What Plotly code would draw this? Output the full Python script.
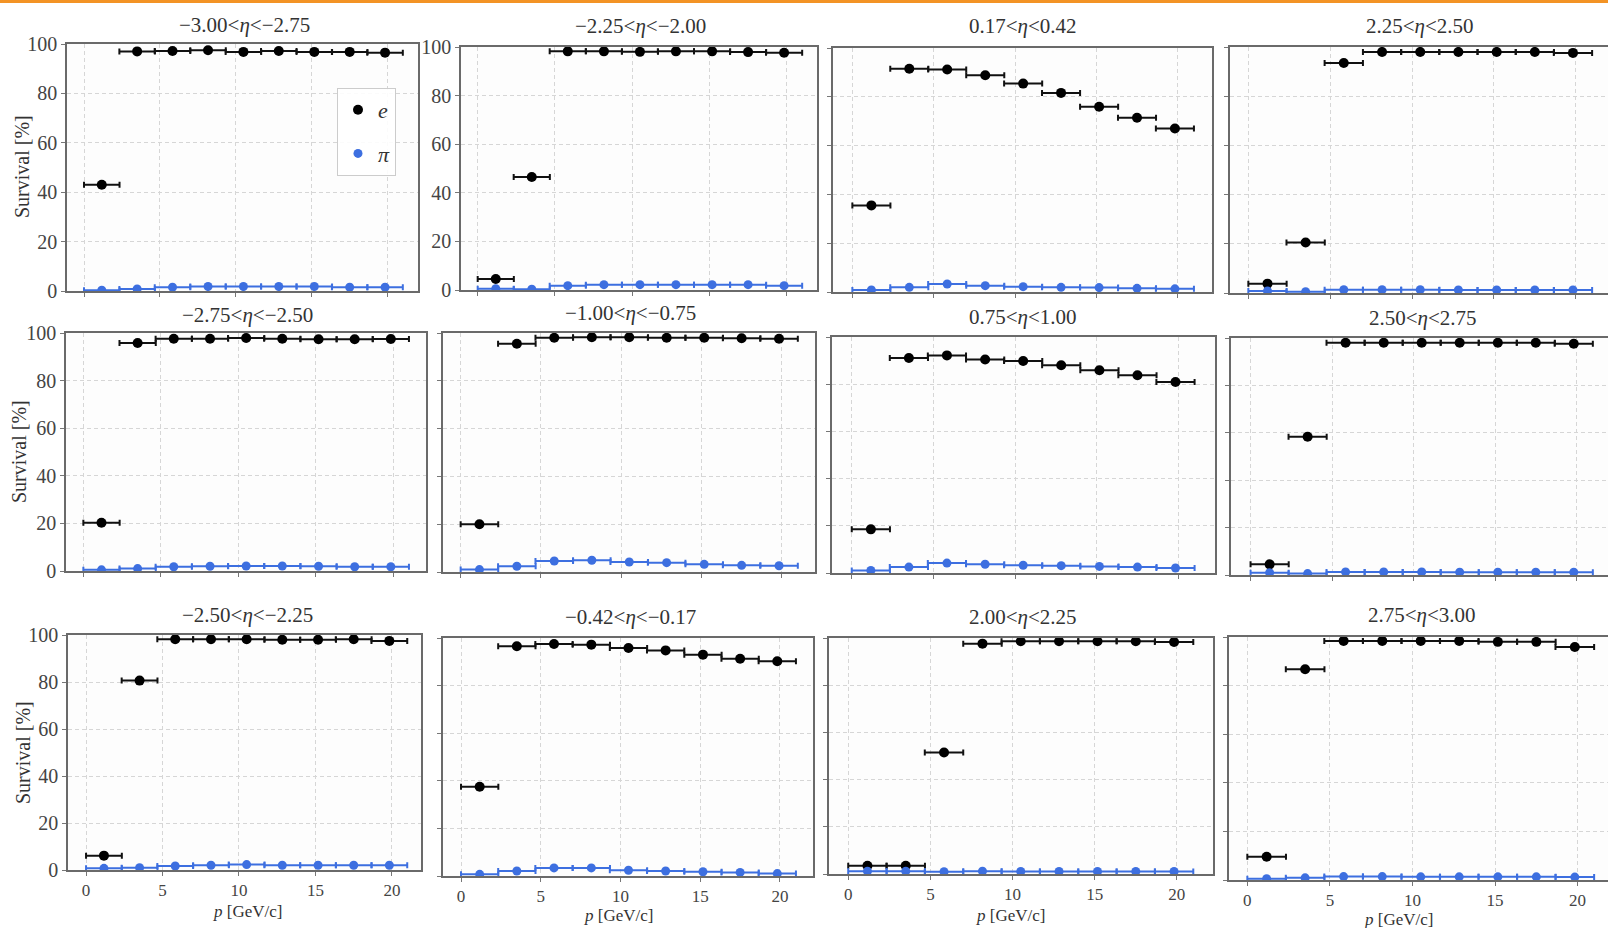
import plotly.graph_objects as go

W, H = 1608, 928

# ---------------- data ----------------
p_center = [1.17, 3.5, 5.83, 8.17, 10.5, 12.83, 15.17, 17.5, 19.83]
p_halfwidth = [1.17, 1.17, 1.17, 1.17, 1.17, 1.17, 1.17, 1.17, 1.17]

eta_labels = [
    "−3.00<<i>η</i><−2.75", "−2.25<<i>η</i><−2.00", "0.17<<i>η</i><0.42", "2.25<<i>η</i><2.50",
    "−2.75<<i>η</i><−2.50", "−1.00<<i>η</i><−0.75", "0.75<<i>η</i><1.00", "2.50<<i>η</i><2.75",
    "−2.50<<i>η</i><−2.25", "−0.42<<i>η</i><−0.17", "2.00<<i>η</i><2.25", "2.75<<i>η</i><3.00",
]

e_m300 = [43.0, 97.0, 97.2, 97.5, 96.8, 97.2, 96.8, 96.8, 96.5]
pi_m300 = [0.3, 0.8, 1.5, 1.8, 1.8, 1.8, 1.8, 1.5, 1.5]
e_m225 = [4.5, 46.5, 98.2, 98.2, 98.0, 98.2, 98.2, 97.9, 97.6]
pi_m225 = [0.5, 0.3, 1.8, 2.2, 2.2, 2.2, 2.2, 2.2, 1.8]
e_p017 = [35.5, 91.5, 91.2, 88.8, 85.4, 81.6, 75.9, 71.4, 67.0]
pi_p017 = [0.8, 1.9, 3.3, 2.6, 2.2, 1.9, 1.8, 1.5, 1.3]
e_p225 = [3.8, 20.5, 93.5, 98.0, 98.0, 98.0, 98.0, 98.0, 97.6]
pi_p225 = [0.8, 0.5, 1.3, 1.3, 1.3, 1.2, 1.2, 1.2, 1.2]

e_m275 = [20.3, 95.8, 97.6, 97.6, 97.9, 97.6, 97.4, 97.4, 97.5]
pi_m275 = [0.5, 1.0, 1.8, 2.0, 2.1, 2.1, 2.0, 1.8, 1.8]
e_m100 = [20.0, 95.5, 98.0, 98.2, 98.2, 98.0, 98.0, 97.8, 97.6]
pi_m100 = [1.0, 2.4, 4.6, 4.9, 4.2, 3.9, 3.2, 2.8, 2.6]
e_p075 = [18.5, 91.1, 92.2, 90.5, 89.8, 88.0, 85.9, 83.8, 80.9]
pi_p075 = [1.1, 2.5, 4.2, 3.7, 3.3, 3.1, 2.8, 2.5, 2.1]
e_p250 = [4.5, 58.3, 98.0, 98.0, 98.0, 98.0, 98.0, 98.0, 97.6]
pi_p250 = [1.0, 0.6, 1.3, 1.3, 1.3, 1.2, 1.2, 1.2, 1.2]

e_m250 = [6.1, 80.6, 98.2, 98.2, 98.2, 98.0, 98.0, 98.2, 97.5]
pi_m250 = [0.7, 1.0, 1.7, 2.0, 2.3, 2.0, 2.0, 2.0, 2.0]
e_m042 = [37.5, 96.5, 97.5, 97.2, 95.8, 94.8, 93.0, 91.3, 90.2]
pi_m042 = [0.7, 2.1, 3.4, 3.4, 2.4, 2.1, 1.8, 1.5, 1.0]
e_p200 = [3.5, 3.5, 51.5, 97.6, 98.6, 98.6, 98.6, 98.6, 98.3]
pi_p200 = [1.2, 1.2, 1.0, 1.2, 1.1, 1.1, 1.1, 1.1, 1.1]
e_p275 = [9.6, 86.7, 98.4, 98.4, 98.4, 98.4, 98.0, 98.0, 95.9]
pi_p275 = [0.5, 0.9, 1.4, 1.4, 1.3, 1.3, 1.3, 1.3, 1.2]

e_series = [e_m300, e_m225, e_p017, e_p225,
            e_m275, e_m100, e_p075, e_p250,
            e_m250, e_m042, e_p200, e_p275]
pi_series = [pi_m300, pi_m225, pi_p017, pi_p225,
             pi_m275, pi_m100, pi_p075, pi_p250,
             pi_m250, pi_m042, pi_p200, pi_p275]

x_ticks = [0, 5, 10, 15, 20]
y_ticks = [0, 20, 40, 60, 80, 100]

# ---------------- layout (pixel boxes: left, right, top, bottom) ----------------
boxes = [
    (67, 418, 44, 291), (461, 817, 47, 290), (833, 1212, 48, 292), (1230, 1608, 47, 293),
    (66, 426, 333, 571), (443, 815, 333, 572), (832, 1215, 337, 573), (1231, 1608, 338, 575),
    (68, 421, 635, 870), (443, 813, 638, 876), (829, 1213, 638, 874), (1229, 1608, 637, 880),
]
x_ranges = [
    (-1.12, 22.0), (-1.08, 21.96), (-1.19, 22.11), (-1.12, 21.97),
    (-1.12, 22.1), (-1.10, 22.07), (-1.21, 22.25), (-1.20, 21.93),
    (-1.18, 21.9), (-1.13, 22.07), (-1.17, 22.2), (-1.11, 21.84),
]
y_label_panels = {0, 1, 4, 8}
title_pos = [(245, 25), (640, 26), (1023, 26), (1420, 26),
             (247, 315), (630, 313), (1023, 317), (1423, 318),
             (247, 615), (630, 617), (1023, 617), (1422, 615)]


def px(x):
    return x / W


def py(y):
    return 1 - y / H


SERIF = "Liberation Serif, Times New Roman, serif"
BLUE = "#3d6fe0"

fig = go.Figure()
layout = dict(
    width=W, height=H, autosize=False,
    margin=dict(l=0, r=0, t=0, b=0, pad=0, autoexpand=False),
    paper_bgcolor="white",
    plot_bgcolor="#fdfdfd",
    showlegend=True,
    font=dict(family=SERIF, color="#333"),
)

annotations = []
for i in range(12):
    ax = "" if i == 0 else str(i + 1)
    L, R, T, B = boxes[i]
    row = i // 4
    common = dict(
        showgrid=True, gridcolor="#d6d6d6", griddash="4px,3px", gridwidth=1,
        showline=True, mirror=True, linecolor="#6a6a6a", linewidth=1.6,
        ticks="outside", ticklen=4, tickcolor="#777", zeroline=False,
        automargin=False,
    )
    layout["xaxis" + ax] = dict(
        domain=[px(L), px(R)], range=list(x_ranges[i]), anchor="y" + ax,
        tickvals=x_ticks, showticklabels=(row == 2),
        tickfont=dict(family=SERIF, size=17, color="#444"),
        **common,
    )
    layout["yaxis" + ax] = dict(
        domain=[py(B), py(T)], range=[0, 100], anchor="x" + ax,
        tickvals=y_ticks, showticklabels=(i in y_label_panels),
        tickfont=dict(family=SERIF, size=20, color="#444"),
        **common,
    )
    fig.add_trace(go.Scatter(
        x=p_center, y=e_series[i], mode="markers",
        marker=dict(color="black", size=10),
        error_x=dict(type="data", array=p_halfwidth, color="#111", thickness=2, width=3),
        name="<i>e</i>", legendgroup="e", showlegend=(i == 0),
        xaxis="x" + ax, yaxis="y" + ax,
    ))
    fig.add_trace(go.Scatter(
        x=p_center, y=pi_series[i], mode="markers",
        marker=dict(color=BLUE, size=9),
        error_x=dict(type="data", array=p_halfwidth, color=BLUE, thickness=2, width=3),
        name="<i>π</i>", legendgroup="pi", showlegend=(i == 0),
        xaxis="x" + ax, yaxis="y" + ax,
    ))
    tx, ty = title_pos[i]
    annotations.append(dict(
        x=px(tx), y=py(ty), xref="paper", yref="paper", text=eta_labels[i],
        showarrow=False, xanchor="center", yanchor="middle",
        font=dict(family=SERIF, size=21, color="#333"),
    ))

# y-axis titles
for yc, xc in [(167, 22), (452, 19), (753, 23)]:
    annotations.append(dict(
        x=px(xc), y=py(yc), xref="paper", yref="paper", text="Survival [%]",
        textangle=-90, showarrow=False, xanchor="center", yanchor="middle",
        font=dict(family=SERIF, size=20, color="#333"),
    ))
# x-axis titles
for xc, yc in [(247, 911), (618, 915), (1010, 915), (1398, 919)]:
    annotations.append(dict(
        x=px(xc), y=py(yc), xref="paper", yref="paper", text="<i>p</i> [GeV/c]",
        showarrow=False, xanchor="center", yanchor="middle",
        font=dict(family=SERIF, size=17, color="#333"),
    ))

layout["annotations"] = annotations
layout["shapes"] = [dict(type="rect", xref="paper", yref="paper",
                         x0=0, x1=1, y0=py(3), y1=1,
                         fillcolor="#f39325", line=dict(width=0), layer="above")]
layout["legend"] = dict(
    x=px(337), y=py(88), xanchor="left", yanchor="top",
    bgcolor="rgba(255,255,255,0.9)", bordercolor="#cccccc", borderwidth=1,
    font=dict(family=SERIF, size=22, color="#333"),
    traceorder="grouped", tracegroupgap=12,
    itemwidth=30,
)
fig.update_layout(**layout)
fig.write_html("out.html")
